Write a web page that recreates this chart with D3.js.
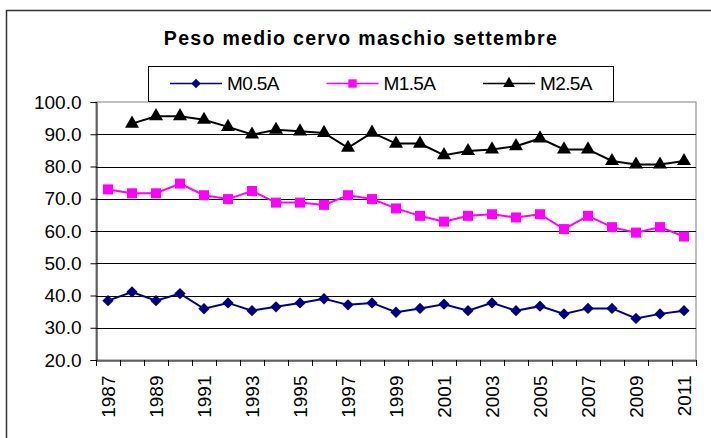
<!DOCTYPE html>
<html><head><meta charset="utf-8">
<script src="https://cdn.jsdelivr.net/npm/d3@7/dist/d3.min.js"></script>
<style>body{margin:0;background:#fff}svg{display:block}text{font-family:"Liberation Sans",Arial,sans-serif}</style>
</head><body>
<svg id="c" width="711" height="438"></svg>
<script>
const years = d3.range(1987, 2012);
const seriesNames = ["M0.5A", "M1.5A", "M2.5A"];
const m05 = [38.4, 41.1, 38.4, 40.6, 35.9, 37.7, 35.3, 36.5, 37.7, 39.0, 37.1, 37.7, 34.8, 36.0, 37.3, 35.3, 37.7, 35.3, 36.7, 34.3, 36.0, 36.0, 32.9, 34.3, 35.3];
const m15 = [72.9, 71.7, 71.7, 74.7, 71.1, 69.9, 72.4, 68.8, 68.8, 68.1, 71.1, 69.9, 67.0, 64.7, 62.9, 64.7, 65.2, 64.2, 65.2, 60.6, 64.7, 61.2, 59.5, 61.2, 58.3];
const m25 = [null, 93.3, 95.6, 95.6, 94.5, 92.3, 89.9, 91.4, 90.9, 90.4, 85.8, 90.5, 87.1, 87.1, 83.5, 84.8, 85.3, 86.3, 88.7, 85.3, 85.3, 81.7, 80.6, 80.6, 81.7];
const yTicks = [20, 30, 40, 50, 60, 70, 80, 90, 100];
const title = "Peso medio cervo maschio settembre";

const svg = d3.select("#c");
const L = 96, R = 696, T = 102, B = 360;
const x = d3.scaleBand().domain(years).range([L, R]);
const y = d3.scaleLinear().domain([20, 100]).range([B, T]);

// square diamond symbol (rotated square)
const symDiamondSq = {
  draw(ctx, size) {
    const r = Math.sqrt(size / 2);
    ctx.moveTo(0, -r); ctx.lineTo(r, 0); ctx.lineTo(0, r); ctx.lineTo(-r, 0); ctx.closePath();
  }
};

// outer border
svg.append("rect").attr("x", 6.5).attr("y", 10.5).attr("width", 720).attr("height", 440)
  .attr("fill", "#fff").attr("stroke", "#333").attr("stroke-width", 1.5);

// title
svg.append("text").attr("x", 361).attr("y", 45).attr("text-anchor", "middle")
  .attr("font-size", 19.5).attr("font-weight", "bold").attr("letter-spacing", 1.3)
  .text(title);

// plot area
svg.append("rect").attr("x", L).attr("y", T).attr("width", R - L).attr("height", B - T)
  .attr("fill", "#fff").attr("stroke", "#808080").attr("stroke-width", 1);

// gridlines
svg.append("g").selectAll("line").data(yTicks.filter(v => v > 20 && v < 100)).join("line")
  .attr("x1", L).attr("x2", R).attr("y1", d => Math.round(y(d)) + 0.5).attr("y2", d => Math.round(y(d)) + 0.5)
  .attr("stroke", "#000").attr("stroke-width", 1);

// y axis
const ya = svg.append("g").attr("transform", `translate(${L + 0.5},0)`)
  .call(d3.axisLeft(y).tickValues(yTicks).tickFormat(d3.format(".1f")).tickSize(6).tickPadding(9));
ya.select(".domain").attr("stroke", "#000");
ya.selectAll(".tick line").attr("stroke", "#000");
ya.selectAll("text").attr("font-size", 19).attr("fill", "#000").attr("font-family", "Liberation Sans, Arial, sans-serif");

// x axis
const xa = svg.append("g").attr("transform", `translate(0,${B + 0.5})`)
  .call(d3.axisBottom(x).tickSize(0).tickFormat(d => (d % 2 === 1 ? d : "")));
xa.select(".domain").attr("stroke", "#000");
xa.selectAll(".tick text").attr("font-size", 19).attr("fill", "#000")
  .attr("font-family", "Liberation Sans, Arial, sans-serif")
  .attr("transform", "rotate(-90)").attr("text-anchor", "end")
  .attr("x", -15).attr("y", 0).attr("dy", "0.35em");
// boundary ticks
const bounds = years.map(d => x(d)).concat([x(years[years.length - 1]) + x.bandwidth()]);
svg.append("g").selectAll("line").data(bounds).join("line")
  .attr("x1", d => Math.round(d) + 0.5).attr("x2", d => Math.round(d) + 0.5)
  .attr("y1", B).attr("y2", B + 6).attr("stroke", "#000");

const cx = d => x(d) + x.bandwidth() / 2;
const series = [
  { name: seriesNames[0], vals: m05, color: "#000080", sym: symDiamondSq, size: 64 },
  { name: seriesNames[1], vals: m15, color: "#FF00FF", sym: d3.symbolSquare, size: 100 },
  { name: seriesNames[2], vals: m25, color: "#000000", sym: d3.symbolTriangle, size: 85 }
];
const line = d3.line().defined(d => d.v != null).x(d => cx(d.yr)).y(d => y(d.v));
series.forEach(s => {
  const pts = years.map((yr, i) => ({ yr, v: s.vals[i] }));
  svg.append("path").datum(pts).attr("d", line).attr("fill", "none")
    .attr("stroke", s.color).attr("stroke-width", 2);
  svg.append("g").selectAll("path").data(pts.filter(p => p.v != null)).join("path")
    .attr("transform", p => `translate(${cx(p.yr)},${y(p.v)})`)
    .attr("d", d3.symbol(s.sym, s.size)).attr("fill", s.color);
});

// legend
const lg = svg.append("g");
lg.append("rect").attr("x", 148.5).attr("y", 66.5).attr("width", 465).attr("height", 35)
  .attr("fill", "#fff").attr("stroke", "#000").attr("stroke-width", 1);
series.forEach((s, i) => {
  const x0 = 170 + i * 156.5, yy = 83.5;
  lg.append("line").attr("x1", x0).attr("x2", x0 + 52).attr("y1", yy).attr("y2", yy)
    .attr("stroke", s.color).attr("stroke-width", 1.5);
  lg.append("path").attr("transform", `translate(${x0 + 26},${yy})`)
    .attr("d", d3.symbol(s.sym, s.size * 0.7)).attr("fill", s.color);
  lg.append("text").attr("x", x0 + 57).attr("y", yy).attr("dy", "0.35em")
    .attr("font-size", 19).attr("letter-spacing", -0.6).text(s.name);
});
</script>
</body></html>
